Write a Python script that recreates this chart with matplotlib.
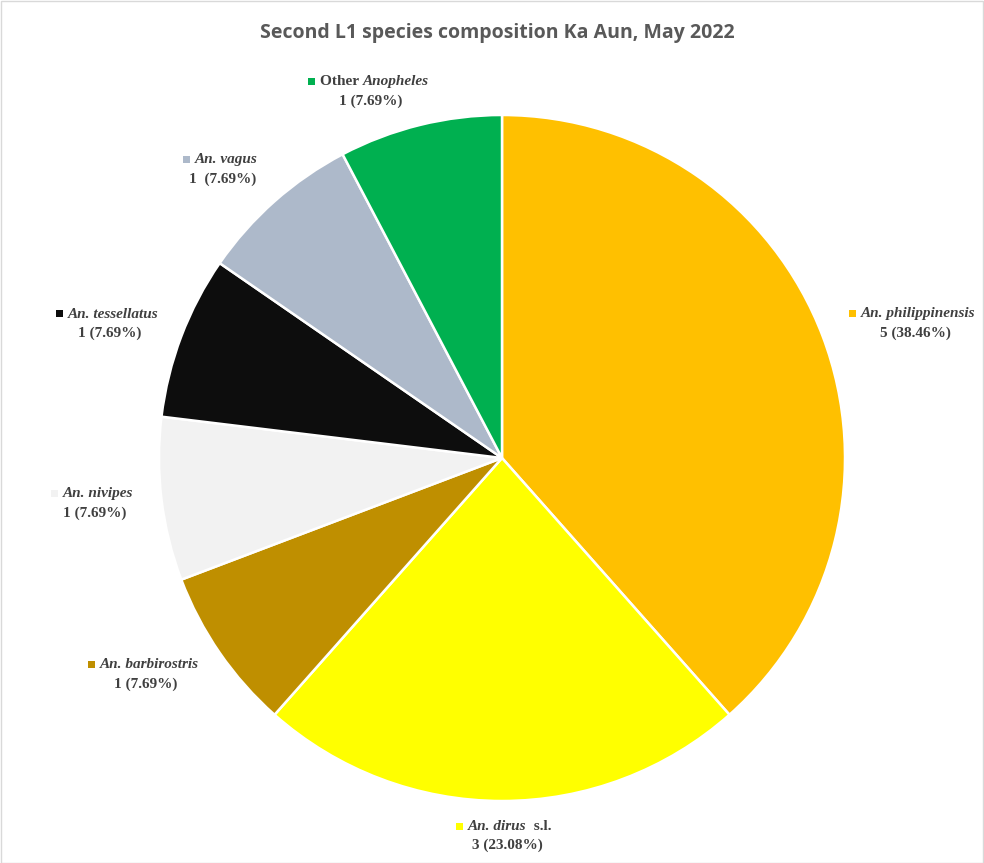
import matplotlib.pyplot as plt
from matplotlib.patches import Rectangle

W, H = 984, 863

species = [
    [("An. philippinensis", "italic")],
    [("An. dirus", "italic"), ("  s.l.", "normal")],
    [("An. barbirostris", "italic")],
    [("An. nivipes", "italic")],
    [("An. tessellatus", "italic")],
    [("An. vagus", "italic")],
    [("Other ", "normal"), ("Anopheles", "italic")],
]
counts = [5, 3, 1, 1, 1, 1, 1]
value_labels = ["5 (38.46%)", "3 (23.08%)", "1 (7.69%)", "1 (7.69%)",
                "1 (7.69%)", "1  (7.69%)", "1 (7.69%)"]
colors = ["#FFC000", "#FFFF00", "#BF8F00", "#F2F2F2", "#0D0D0D",
          "#ADB9CA", "#00B050"]

# label block centres (x, y of first line), pixels from top-left
label_pos = [(912, 314), (504, 826), (143, 665), (92, 494),
             (107, 314), (220, 160), (368, 82)]

fig = plt.figure(figsize=(W / 100, H / 100), dpi=100)
ax = fig.add_axes([0, 0, 1, 1])

ax.pie(counts, colors=colors, startangle=90, counterclock=False,
       radius=343, center=(502, H - 458), frame=True,
       wedgeprops=dict(edgecolor="white", linewidth=1.8))
ax.set_xlim(0, W)
ax.set_ylim(0, H)
ax.set_axis_off()

fig.text(0.505, 1 - 33 / H, "Second L1 species composition Ka Aun, May 2022",
         ha="center", va="center", fontsize=14, fontweight="bold",
         family="Open Sans", color="#595959")

renderer = fig.canvas.get_renderer()
txt_kw = dict(family="Liberation Serif", fontweight="bold", fontsize=11,
              color="#404040", va="center")


def width_of(s, **kw):
    t = ax.text(0, 0, s, **kw)
    w = t.get_window_extent(renderer).width
    t.remove()
    return w


for parts, val, col, (cx, cy) in zip(species, value_labels, colors, label_pos):
    y1 = H - cy
    sq = 7
    gap = 5
    widths = [width_of(s, style=st, **txt_kw) for s, st in parts]
    total = sq + gap + sum(widths)
    x = cx - total / 2
    ax.add_patch(Rectangle((x, y1 - sq / 2), sq, sq, facecolor=col,
                           edgecolor="none"))
    x += sq + gap
    for (s, st), w in zip(parts, widths):
        ax.text(x, y1, s, style=st, ha="left", **txt_kw)
        x += w
    ax.text(cx + 3, y1 - 19, val, ha="center", **txt_kw)

# thin chart-area border
fig.add_artist(Rectangle((0.5 / W, 0.5 / H), 1 - 1.5 / W, 1 - 1.5 / H,
                         transform=fig.transFigure, fill=False,
                         edgecolor="#D9D9D9", linewidth=1))

fig.savefig("out.png", dpi=100)
